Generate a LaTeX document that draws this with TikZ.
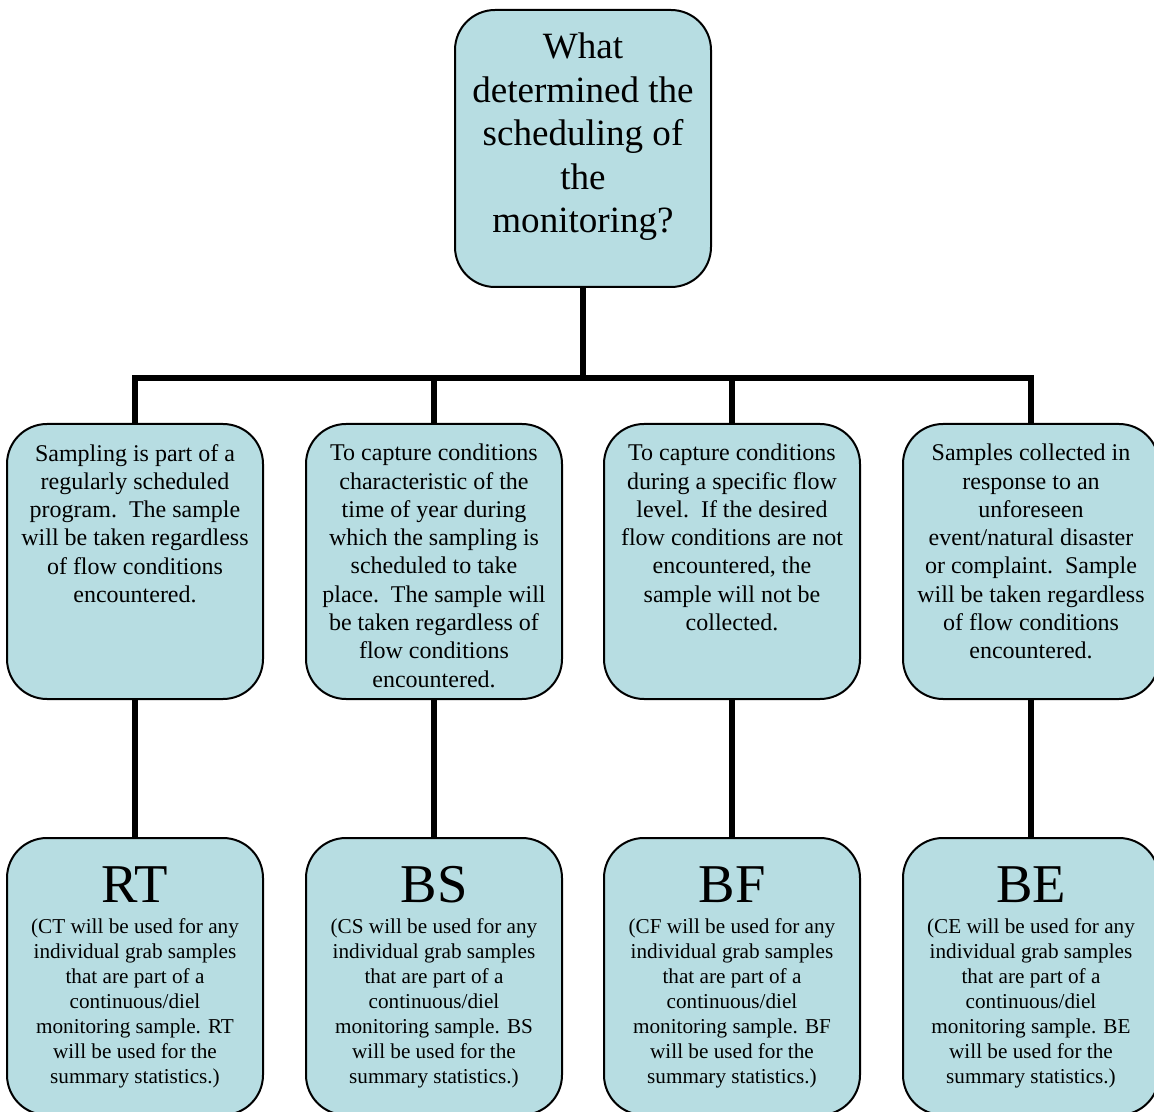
\documentclass[tikz,border=0pt]{standalone}
\usepackage{fontspec}
\setmainfont{Liberation Serif}
\usepackage{tikz}
\definecolor{boxblue}{RGB}{183,221,226}
\tikzset{
  roundbox/.style={draw, line width=1.5pt, fill=boxblue, rounded corners=30pt, minimum width=192pt, minimum height=206.25pt, inner sep=0pt},
  conn/.style={line width=4pt},
  toptext/.style={align=center, inner sep=0pt, anchor=north, font=\fontsize{27.8}{32.6}\selectfont},
  midtext/.style={align=center, inner sep=0pt, anchor=north, font=\fontsize{18}{21.2}\selectfont},
  codetext/.style={inner sep=0pt, anchor=north, font=\fontsize{41}{48}\selectfont},
  notetext/.style={align=center, inner sep=0pt, anchor=north, font=\fontsize{15.9}{18.75}\selectfont},
}
\begin{document}
\begin{tikzpicture}[x=0.75pt,y=0.75pt,yscale=-1,xscale=1]
\useasboundingbox (0,0) rectangle (1154,1112);
\clip (0,0) rectangle (1154,1112);

%Rounded Rect: question
\node [roundbox, minimum height=207.75pt] (top) at (583,148.5) {};
% Text Node
\node [toptext] (toptxt) at (583,33) {What\\determined the\\scheduling of\\the\\monitoring?};

%Rounded Rect: reasons
\node [roundbox] (m1) at (135,561.5) {};
\node [roundbox] (m2) at (434,561.5) {};
\node [roundbox] (m3) at (732,561.5) {};
\node [roundbox] (m4) at (1031,561.5) {};
% Text Node
\node [midtext] (m1txt) at (135,444) {Sampling is part of a\\regularly scheduled\\program.\ \ The sample\\will be taken regardless\\of flow conditions\\encountered.};
% Text Node
\node [midtext] (m2txt) at (434,444) {To capture conditions\\characteristic of the\\time of year during\\which the sampling is\\scheduled to take\\place.\ \ The sample will\\be taken regardless of\\flow conditions\\encountered.};
% Text Node
\node [midtext] (m3txt) at (732,444) {To capture conditions\\during a specific flow\\level.\ \ If the desired\\flow conditions are not\\encountered, the\\sample will not be\\collected.};
% Text Node
\node [midtext] (m4txt) at (1031,444) {Samples collected in\\response to an\\unforeseen\\event/natural disaster\\or complaint.\ \ Sample\\will be taken regardless\\of flow conditions\\encountered.};

%Rounded Rect: codes
\node [roundbox, minimum height=207.75pt] (b1) at (135,976.5) {};
\node [roundbox, minimum height=207.75pt] (b2) at (434,976.5) {};
\node [roundbox, minimum height=207.75pt] (b3) at (732,976.5) {};
\node [roundbox, minimum height=207.75pt] (b4) at (1031,976.5) {};
% Text Node
\node [codetext] (b1code) at (135,866) {RT};
\node [notetext] (b1txt) at (135,918) {(CT will be used for any\\individual grab samples\\that are part of a\\continuous/diel\\monitoring sample. RT\\will be used for the\\summary statistics.)};
% Text Node
\node [codetext] (b2code) at (434,866) {BS};
\node [notetext] (b2txt) at (434,918) {(CS will be used for any\\individual grab samples\\that are part of a\\continuous/diel\\monitoring sample. BS\\will be used for the\\summary statistics.)};
% Text Node
\node [codetext] (b3code) at (732,866) {BF};
\node [notetext] (b3txt) at (732,918) {(CF will be used for any\\individual grab samples\\that are part of a\\continuous/diel\\monitoring sample. BF\\will be used for the\\summary statistics.)};
% Text Node
\node [codetext] (b4code) at (1031,866) {BE};
\node [notetext] (b4txt) at (1031,918) {(CE will be used for any\\individual grab samples\\that are part of a\\continuous/diel\\monitoring sample. BE\\will be used for the\\summary statistics.)};

%Straight Lines: tree
\coordinate (bar) at (583,378);
\draw [conn] (top.south) -- (bar);
\draw [conn] (m1.north) |- (bar) -| (m4.north);
\draw [conn] (m2.north) -- (m2.north |- bar);
\draw [conn] (m3.north) -- (m3.north |- bar);
%Straight Lines: down to codes
\draw [conn] (m1.south) -- (b1.north);
\draw [conn] (m2.south) -- (b2.north);
\draw [conn] (m3.south) -- (b3.north);
\draw [conn] (m4.south) -- (b4.north);
\end{tikzpicture}
\end{document}
